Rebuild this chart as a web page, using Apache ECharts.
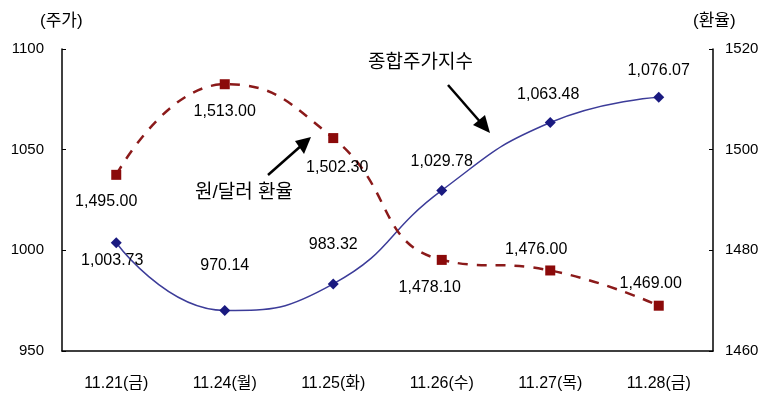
<!DOCTYPE html>
<html>
<head>
<meta charset="utf-8">
<script src="https://cdn.jsdelivr.net/npm/echarts@6/dist/echarts.min.js"></script>
<style>
html, body { margin: 0; padding: 0; background: #fff; }
#chart { width: 769px; height: 400px; }
</style>
</head>
<body>
<div id="chart"></div>
<script>
var days = ['11.21(금)', '11.24(월)', '11.25(화)', '11.26(수)', '11.27(목)', '11.28(금)']
var kospi = [1003.73, 970.14, 983.32, 1029.78, 1063.48, 1076.07]
var won = [1495.00, 1513.00, 1502.30, 1478.10, 1476.00, 1469.00]

// label offsets (x, y) relative to each point
var kospiLabelPos = [[-4, 18], [0, -45], [0, -39], [0, -29], [-2, -28], [0, -27]]
var wonLabelPos = [[-10, 27], [0, 27], [4, 30], [-12, 28], [-14, -21], [-8, -22]]

var FONT = "'Liberation Sans', 'Noto Sans CJK KR', sans-serif"

function fmt (v) {
  var parts = v.toFixed(2).split('.')
  return parts[0].replace(/\B(?=(\d{3})+(?!\d))/g, ',') + '.' + parts[1]
}

function plain (v) {
  return String(v)
}

function withLabels (values, pos) {
  return values.map(function (v, i) {
    return {
      value: v,
      label: { show: true, position: 'inside', offset: pos[i] }
    }
  })
}

var chart = echarts.init(document.getElementById('chart'))
var option = {
  animation: false,
  backgroundColor: '#fff',
  textStyle: { fontFamily: FONT },
  grid: { left: 62, right: 56, top: 49, bottom: 49 },
  xAxis: {
    type: 'category',
    data: days,
    boundaryGap: true,
    axisLine: { lineStyle: { color: '#000', width: 1.5 } },
    axisTick: { inside: true, length: 5, lineStyle: { color: '#000' } },
    axisLabel: { color: '#000', fontSize: 16, margin: 25, fontFamily: FONT },
    splitLine: { show: false }
  },
  yAxis: [
    {
      type: 'value',
      min: 950,
      max: 1100,
      interval: 50,
      axisLine: { show: true, lineStyle: { color: '#000', width: 1.5 } },
      axisTick: { show: true, inside: true, length: 4, lineStyle: { color: '#000' } },
      axisLabel: { color: '#000', fontSize: 15, margin: 18, fontFamily: FONT, formatter: plain },
      splitLine: { show: false }
    },
    {
      type: 'value',
      min: 1460,
      max: 1520,
      interval: 20,
      position: 'right',
      axisLine: { show: true, lineStyle: { color: '#000', width: 1.5 } },
      axisTick: { show: true, inside: true, length: 4, lineStyle: { color: '#000' } },
      axisLabel: { color: '#000', fontSize: 15, margin: 12, fontFamily: FONT, formatter: plain },
      splitLine: { show: false }
    }
  ],
  series: [
    {
      name: '종합주가지수',
      type: 'line',
      yAxisIndex: 0,
      data: withLabels(kospi, kospiLabelPos),
      smooth: true,
      symbol: 'diamond',
      symbolSize: 11,
      itemStyle: { color: '#1a1a80' },
      lineStyle: { color: '#3c3c99', width: 1.5 },
      label: {
        color: '#000',
        fontSize: 16,
        fontFamily: FONT,
        formatter: function (p) { return fmt(p.value) }
      }
    },
    {
      name: '원/달러 환율',
      type: 'line',
      yAxisIndex: 1,
      data: withLabels(won, wonLabelPos),
      smooth: true,
      symbol: 'rect',
      symbolSize: 10,
      itemStyle: { color: '#8b0a0a' },
      lineStyle: { color: '#8b1a1a', width: 2.5, type: [10, 9] },
      label: {
        color: '#000',
        fontSize: 16,
        fontFamily: FONT,
        formatter: function (p) { return fmt(p.value) }
      }
    }
  ],
  graphic: [
    { type: 'text', left: 40, top: 13, style: { text: '(주가)', fontSize: 17, fill: '#000', fontFamily: FONT } },
    { type: 'text', left: 693, top: 13, style: { text: '(환율)', fontSize: 17, fill: '#000', fontFamily: FONT } },
    { type: 'text', left: 368, top: 53, style: { text: '종합주가지수', fontSize: 19, fill: '#000', fontFamily: FONT } },
    { type: 'text', left: 195, top: 183, style: { text: '원/달러 환율', fontSize: 19, fill: '#000', fontFamily: FONT } },
    { type: 'line', shape: { x1: 448, y1: 85, x2: 482, y2: 124 }, style: { stroke: '#000', lineWidth: 2.5 } },
    { type: 'polygon', shape: { points: [[490, 133], [473, 125], [485, 115]] }, style: { fill: '#000' } },
    { type: 'line', shape: { x1: 268, y1: 175, x2: 302, y2: 145 }, style: { stroke: '#000', lineWidth: 2.5 } },
    { type: 'polygon', shape: { points: [[311, 137], [304, 154], [295, 141]] }, style: { fill: '#000' } }
  ]
}
chart.setOption(option)
</script>
</body>
</html>
